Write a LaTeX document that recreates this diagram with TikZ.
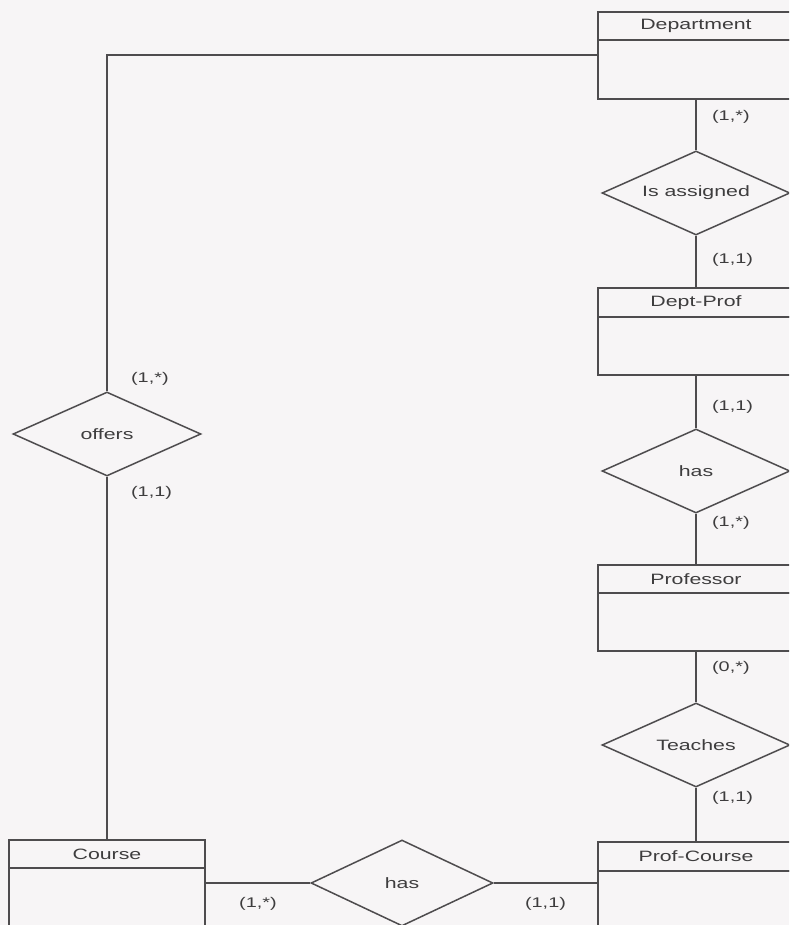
\documentclass[tikz,border=0pt]{standalone}
\usepackage{fontspec}
\setmainfont{Liberation Sans}[FakeStretch=1.42]
\usetikzlibrary{shapes.geometric}
\definecolor{ink}{RGB}{78,76,78}
\definecolor{paper}{RGB}{247,245,246}

\begin{document}
\begin{tikzpicture}[x=1pt,y=-1pt,line width=1.5pt,color=ink,
 every node/.style={font=\fontsize{15}{18}\selectfont,text=ink!80!black},
 ent/.style={rectangle,draw,minimum width=196pt,minimum height=28pt,inner sep=0pt},
 entbody/.style={rectangle,draw,minimum width=196pt,inner sep=0pt},
 rel/.style={diamond,draw,aspect=2.25,minimum width=188pt,minimum height=84pt,inner sep=0pt},
 card/.style={font=\fontsize{14}{16}\selectfont}]
\useasboundingbox (0,0) rectangle (789,925);
\clip (0,0) rectangle (789,925);
\fill[paper] (0,0) rectangle (789,925);
% right column
\node[ent] (dept) at (696,26) {Department};
\node[entbody,minimum height=59pt] (deptb) at (696,69.5) {};
\node[rel] (assign) at (696,193) {Is assigned};
\node[ent,minimum height=29pt] (dp) at (696,302.5) {Dept-Prof};
\node[entbody,minimum height=58pt] (dpb) at (696,346) {};
\node[rel] (hasdp) at (696,471) {has};
\node[ent] (prof) at (696,579) {Professor};
\node[entbody,minimum height=58pt] (profb) at (696,622) {};
\node[rel] (teach) at (696,745) {Teaches};
\node[ent,minimum height=29pt] (pc) at (696,856.5) {Prof-Course};
\node[entbody,minimum height=70pt] (pcb) at (696,906) {};
% left column and bottom
\node[rel] (offers) at (107,434) {offers};
\node[ent] (course) at (107,854) {Course};
\node[entbody,minimum height=70pt] (courseb) at (107,903) {};
\node[rel,minimum width=182pt,minimum height=86pt] (hasc) at (402,883) {has};
\draw (deptb) -- node[card,pos=0.33,anchor=west,xshift=12pt] {(1,*)} (assign);
\draw (assign) -- node[card,pos=0.47,anchor=west,xshift=12pt] {(1,1)} (dp);
\draw (dpb) -- node[card,pos=0.59,anchor=west,xshift=12pt] {(1,1)} (hasdp);
\draw (hasdp) -- node[card,pos=0.19,anchor=west,xshift=12pt] {(1,*)} (prof);
\draw (profb) -- node[card,pos=0.31,anchor=west,xshift=12pt] {(0,*)} (teach);
\draw (teach) -- node[card,pos=0.18,anchor=west,xshift=12pt] {(1,1)} (pc);
\draw (offers) |- node[card,at start,anchor=south west,xshift=20pt,yshift=2pt] {(1,*)} ([yshift=14.5pt]deptb.west);
\draw (offers) -- node[card,pos=0.044,anchor=west,xshift=20pt] {(1,1)} (course);
\draw (hasc.west -| courseb.east) -- node[card,below=10pt] {(1,*)} (hasc.west);
\draw (hasc.east) -- node[card,below=10pt] {(1,1)} (hasc.east -| pcb.west);
\end{tikzpicture}
\end{document}
